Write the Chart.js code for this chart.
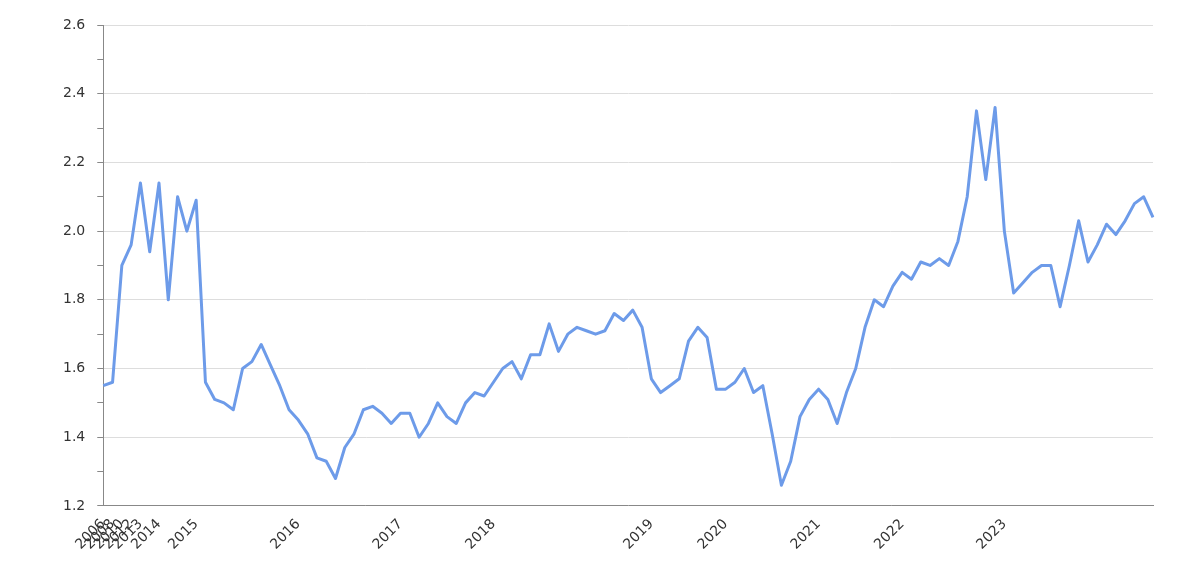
<!DOCTYPE html>
<html><head><meta charset="utf-8">
<script src="https://cdn.jsdelivr.net/npm/chart.js@4"></script>
<style>html,body{margin:0;background:#fff}#w{width:1200px;height:583px}</style>
</head><body><div id="w"><canvas id="c"></canvas></div>
<script>
const values=[1.55,1.56,1.90,1.96,2.14,1.94,2.14,1.80,2.10,2.00,2.09,1.56,1.51,1.50,1.48,1.60,1.62,1.67,1.61,1.55,1.48,1.45,1.41,1.34,1.33,1.28,1.37,1.41,1.48,1.49,1.47,1.44,1.47,1.47,1.40,1.44,1.50,1.46,1.44,1.50,1.53,1.52,1.56,1.60,1.62,1.57,1.64,1.64,1.73,1.65,1.70,1.72,1.71,1.70,1.71,1.76,1.74,1.77,1.72,1.57,1.53,1.55,1.57,1.68,1.72,1.69,1.54,1.54,1.56,1.60,1.53,1.55,1.41,1.26,1.33,1.46,1.51,1.54,1.51,1.44,1.53,1.60,1.72,1.80,1.78,1.84,1.88,1.86,1.91,1.90,1.92,1.90,1.97,2.10,2.35,2.15,2.36,2.00,1.82,1.85,1.88,1.90,1.90,1.78,1.90,2.03,1.91,1.96,2.02,1.99,2.03,2.08,2.10,2.04];
const yearLabels=['2006','2008','2010','2012','2013','2014','2015','2016','2017','2018','2019','2020','2021','2022','2023'];
const yearIndex=[0,1,2,3,4,6,10,21,32,42,59,67,77,86,97];
const labels=values.map(()=> '');
yearIndex.forEach((i,k)=>labels[i]=yearLabels[k]);
new Chart(document.getElementById('c'),{type:'line',
data:{labels,datasets:[{data:values,borderColor:'#6d9be9',borderWidth:3,borderJoinStyle:'round',pointRadius:0,tension:0,fill:false}]},
options:{responsive:true,maintainAspectRatio:false,animation:false,
layout:{padding:{top:25,right:47,left:51,bottom:20}},
plugins:{legend:{display:false},tooltip:{enabled:false}},
scales:{
x:{grid:{display:false,drawTicks:false},border:{color:'#888'},
ticks:{autoSkip:false,maxRotation:45,minRotation:45,padding:10,color:'#333',font:{family:'DejaVu Sans',size:14},callback:(v,i)=>labels[i]}},
y:{min:1.2,max:2.6,border:{color:'#888'},
grid:{color:c=>Math.round(c.tick.value*10)%2===0?'#dddddd':'rgba(0,0,0,0)',tickColor:'#888',tickLength:6},
ticks:{stepSize:0.1,padding:12,color:'#333',font:{family:'DejaVu Sans',size:14},
callback:v=>Math.round(v*10)%2===0?v.toFixed(1):''}}}}});
</script></body></html>
